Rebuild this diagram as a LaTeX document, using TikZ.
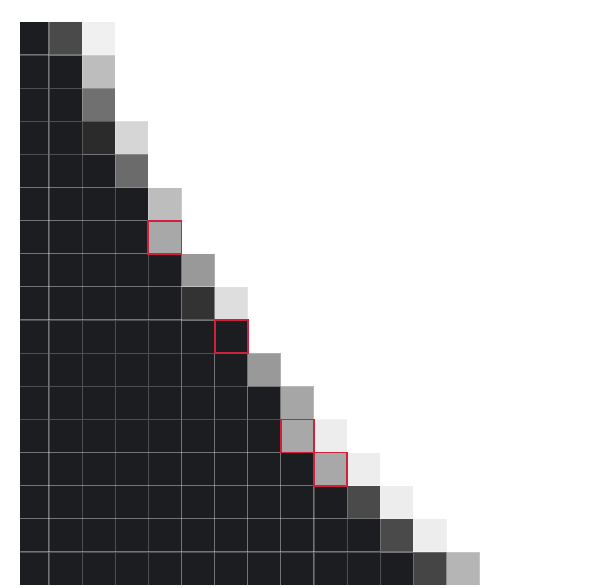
\documentclass[tikz,border=0pt]{standalone}
\definecolor{ink}{HTML}{1C1D21}
\definecolor{alertred}{HTML}{D0213C}

\begin{document}
\begin{tikzpicture}[x=1pt,y=-1pt]
  \useasboundingbox (0,0) rectangle (616,587);
  \begin{scope}[shift={(15.87,21.87)},x=33.13pt,y=-33.13pt]
   \clip (0.125,0) rectangle (16,17);
   % solid run of each row
   \foreach \r/\n in {0/1,1/2,2/2,3/2,4/3,5/4,6/4,7/5,8/5,9/7,10/7,11/8,12/8,13/9,14/10,15/11,16/12}{
     \foreach \c in {1,...,\n}{\filldraw[fill=ink,draw=white,draw opacity=0.22,line width=1.1pt] (\c-1,\r) rectangle (\c,\r+1);}}
   % anti-aliased edge
   \foreach \r/\c/\g in {0/1/71,0/2/6,1/2/26,2/2/56,3/2/83,3/3/16,4/3/58,5/4/26,6/4/34,7/5/40,8/5/80,8/6/13,10/7/40,11/8/35,12/8/34,12/9/7,13/9/34,13/10/7,14/10/71,14/11/7,15/11/71,15/12/7,16/12/73,16/13/29}{
     \filldraw[fill=black!\g,draw=white,draw opacity=0.22,line width=1.1pt] (\c,\r) rectangle (\c+1,\r+1);}
   % marked pixels
   \foreach \r/\c in {6/4,9/6,12/8,13/9}{\draw[alertred,line width=1.8pt] (\c,\r) rectangle (\c+1,\r+1);}
  \end{scope}
\end{tikzpicture}
\end{document}
